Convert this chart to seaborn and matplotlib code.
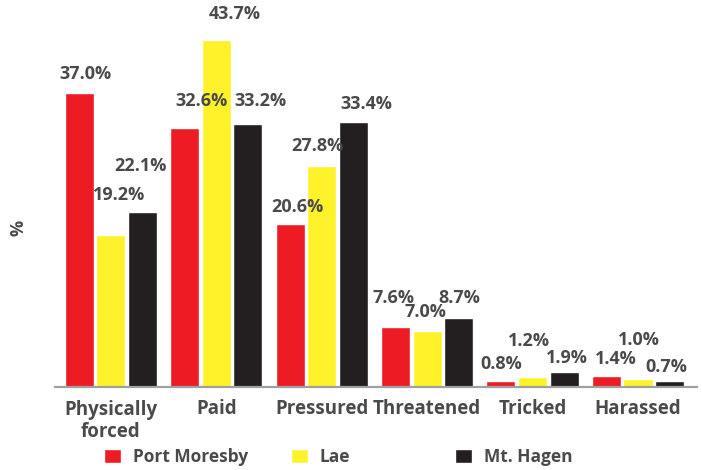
import pandas as pd
import matplotlib.pyplot as plt
import seaborn as sns

# Chart data
categories = ['Physically\nforced', 'Paid', 'Pressured', 'Threatened', 'Tricked', 'Harassed']
cities = ['Port Moresby', 'Lae', 'Mt. Hagen']
port_moresby = [37.0, 32.6, 20.6, 7.6, 0.8, 1.4]
lae = [19.2, 43.7, 27.8, 7.0, 1.2, 1.0]
mt_hagen = [22.1, 33.2, 33.4, 8.7, 1.9, 0.7]

# label nudges (pixels) so the values don't overlap, as in the original
label_dx = [[6, 17, 7, -2, 0, 9], [8, 18, -4, -2, -4, 1], [-2, 13, 13, 1, 3, -3]]
label_dy = [[19, 27, 17, 29, 17, 17], [40, 26, 20, 19, 36, 39], [46, 23, 18, 20, 14, 14]]

palette = {'Port Moresby': '#ed1c24', 'Lae': '#fff22a', 'Mt. Hagen': '#231f20'}
text_color = '#4a4a4a'

sns.set_theme(style='white')
plt.rcParams['font.family'] = ['Open Sans', 'DejaVu Sans']
plt.rcParams['font.weight'] = 'bold'

df = pd.DataFrame({'Category': categories, 'Port Moresby': port_moresby,
                   'Lae': lae, 'Mt. Hagen': mt_hagen})
df_long = df.melt(id_vars='Category', var_name='City', value_name='Percent')

fig = plt.figure(figsize=(7.02, 4.70), dpi=100)
ax = fig.add_axes([55 / 702, 83 / 470, 642 / 702, 357 / 470])

sns.barplot(data=df_long, x='Category', y='Percent', hue='City',
            hue_order=cities, palette=palette, saturation=1,
            width=0.9, gap=0.08, ax=ax)

ax.set_xlim(-0.53, 5.56)
ax.set_ylim(0, 45)

# value labels
for i, container in enumerate(ax.containers):
    for j, bar in enumerate(container):
        ax.annotate(f'{bar.get_height():.1f}%',
                    (bar.get_x() + bar.get_width() / 2, bar.get_height()),
                    xytext=(label_dx[i][j], label_dy[i][j]), textcoords='offset pixels',
                    ha='center', va='center', fontsize=13, fontweight='bold',
                    color=text_color, annotation_clip=False)

sns.despine(ax=ax, left=True)
ax.spines['bottom'].set_color('#a0a0a0')
ax.spines['bottom'].set_linewidth(1.6)
ax.set_yticks([])
ax.set_xlabel('')
ax.set_ylabel('')
fig.text(18 / 702, 1 - 228 / 470, '%', rotation=90, ha='center', va='center',
         fontsize=13, fontweight='bold', color=text_color)
ax.tick_params(axis='x', length=0, pad=9, labelsize=13.5, labelcolor=text_color)
for t in ax.get_xticklabels():
    t.set_fontweight('bold')
    t.set_linespacing(1.15)

# legend: three entries placed separately like the original
handles, labels = ax.get_legend_handles_labels()
ax.legend().remove()
legend_x = [104, 291, 455]
for h, l, x in zip(handles, labels, legend_x):
    leg = fig.legend([h], [l], loc='center left', bbox_to_anchor=(x / 702, 1 - 457 / 470),
                     frameon=False, borderpad=0, borderaxespad=0,
                     handlelength=1.0, handleheight=0.85, handletextpad=0.65,
                     prop={'size': 12.5, 'weight': 'bold'})
    for t in leg.get_texts():
        t.set_color(text_color)

fig.savefig('out.png', dpi=100)
